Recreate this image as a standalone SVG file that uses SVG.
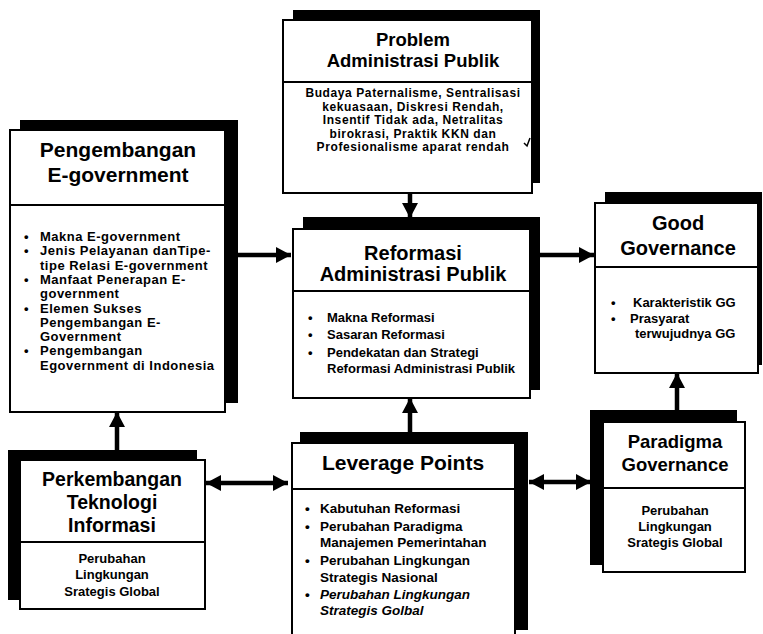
<svg xmlns="http://www.w3.org/2000/svg" width="763" height="634" viewBox="0 0 763 634">
<style>
.box{fill:#fff;stroke:#000;stroke-width:2}
.sh{fill:#000}
.div{stroke:#000;stroke-width:2}
.t{font-family:"Liberation Sans",Arial,sans-serif;font-weight:bold;fill:#000}
.ti{text-anchor:middle}
.c{text-anchor:middle}
.conn{stroke:#000;stroke-width:4.5;fill:none}
.it{font-style:italic}
.pb{font-size:12px;letter-spacing:0.6px}
.lb{font-size:13px;letter-spacing:0.5px}
</style>
<defs>
<marker id="ah" markerUnits="userSpaceOnUse" markerWidth="16" markerHeight="16" refX="15" refY="8" orient="auto-start-reverse">
<path d="M0,0 L15,8 L0,16 Z" fill="#000"/>
</marker>
</defs>
<rect width="763" height="634" fill="#fff"/>

<g id="connectors">
<line class="conn" x1="410" y1="193" x2="410" y2="218" marker-end="url(#ah)"/>
<line class="conn" x1="238" y1="255" x2="291" y2="255" marker-end="url(#ah)"/>
<line class="conn" x1="540" y1="255" x2="594" y2="255" marker-end="url(#ah)"/>
<line class="conn" x1="677" y1="410" x2="677" y2="373" marker-end="url(#ah)"/>
<line class="conn" x1="410" y1="432" x2="410" y2="398" marker-end="url(#ah)"/>
<line class="conn" x1="117" y1="450" x2="117" y2="412" marker-end="url(#ah)"/>
<line class="conn" x1="206" y1="483" x2="288" y2="483" marker-start="url(#ah)" marker-end="url(#ah)"/>
<line class="conn" x1="529" y1="482" x2="591" y2="482" marker-start="url(#ah)" marker-end="url(#ah)"/>
</g>

<g id="problem">
<rect class="sh" x="293" y="10" width="247" height="173"/>
<rect class="box" x="283" y="20" width="249" height="173"/>
<line class="div" x1="283" y1="82" x2="532" y2="82"/>
<text class="t ti" font-size="18.5" x="413" y="46">Problem</text>
<text class="t ti" font-size="18.5" x="413" y="67">Administrasi Publik</text>
<text class="t c pb" x="413" y="97">Budaya Paternalisme, Sentralisasi</text>
<text class="t c pb" x="413" y="111">kekuasaan, Diskresi Rendah,</text>
<text class="t c pb" x="413" y="124">Insentif Tidak ada, Netralitas</text>
<text class="t c pb" x="413" y="138">birokrasi, Praktik KKN dan</text>
<text class="t c pb" x="413" y="151">Profesionalisme aparat rendah</text>
<path d="M524,143 L527,146 L530,138" stroke="#000" stroke-width="1.5" fill="none"/>
</g>

<g id="pengembangan">
<rect class="sh" x="20" y="120" width="218" height="283"/>
<rect class="box" x="10" y="130" width="215" height="282"/>
<line class="div" x1="10" y1="205" x2="225" y2="205"/>
<text class="t ti" font-size="21" x="118" y="157">Pengembangan</text>
<text class="t ti" font-size="21" x="118" y="182">E-government</text>
<text class="t lb" x="24" y="241">•</text>
<text class="t lb" x="40" y="241">Makna E-government</text>
<text class="t lb" x="24" y="255">•</text>
<text class="t lb" x="40" y="255">Jenis Pelayanan danTipe-</text>
<text class="t lb" x="40" y="270">tipe Relasi E-government</text>
<text class="t lb" x="24" y="284">•</text>
<text class="t lb" x="40" y="284">Manfaat Penerapan E-</text>
<text class="t lb" x="40" y="298">government</text>
<text class="t lb" x="24" y="313">•</text>
<text class="t lb" x="40" y="313">Elemen Sukses</text>
<text class="t lb" x="40" y="327">Pengembangan  E-</text>
<text class="t lb" x="40" y="341">Government</text>
<text class="t lb" x="24" y="355">•</text>
<text class="t lb" x="40" y="355">Pengembangan</text>
<text class="t lb" x="40" y="370">Egovernment di Indonesia</text>
</g>

<g id="reformasi">
<rect class="sh" x="303" y="217" width="237" height="173"/>
<rect class="box" x="293" y="229" width="237" height="169"/>
<line class="div" x1="293" y1="291" x2="530" y2="291"/>
<text class="t ti" font-size="20" x="413" y="260">Reformasi</text>
<text class="t ti" font-size="20" x="413" y="281">Administrasi Publik</text>
<g font-size="13">
<text class="t" x="308" y="322">•</text>
<text class="t" x="327" y="322">Makna Reformasi</text>
<text class="t" x="308" y="339">•</text>
<text class="t" x="327" y="339">Sasaran Reformasi</text>
<text class="t" x="308" y="357">•</text>
<text class="t" x="327" y="357">Pendekatan dan  Strategi</text>
<text class="t" x="327" y="373">Reformasi Administrasi Publik</text>
</g>
</g>

<g id="good-governance">
<rect class="sh" x="605" y="192" width="157" height="173"/>
<rect class="box" x="595" y="203" width="163" height="170"/>
<line class="div" x1="595" y1="267" x2="758" y2="267"/>
<text class="t ti" font-size="20" x="678" y="230">Good</text>
<text class="t ti" font-size="20" x="678" y="255">Governance</text>
<g font-size="13">
<text class="t" x="611" y="307">•</text>
<text class="t" x="633" y="307">Karakteristik GG</text>
<text class="t" x="611" y="323">•</text>
<text class="t" x="630" y="323">Prasyarat</text>
<text class="t" x="635" y="338">terwujudnya GG</text>
</g>
</g>

<g id="paradigma">
<rect class="sh" x="590" y="410" width="147" height="155"/>
<rect class="box" x="603" y="422" width="142" height="150"/>
<line class="div" x1="603" y1="488" x2="745" y2="488"/>
<text class="t ti" font-size="18.5" x="675" y="448">Paradigma</text>
<text class="t ti" font-size="18.5" x="675" y="471">Governance</text>
<text class="t c" font-size="13" x="675" y="515">Perubahan</text>
<text class="t c" font-size="13" x="675" y="531">Lingkungan</text>
<text class="t c" font-size="13" x="675" y="547">Srategis Global</text>
</g>

<g id="leverage">
<rect class="sh" x="300" y="432" width="228" height="198"/>
<rect class="box" x="292" y="443" width="223" height="200"/>
<line class="div" x1="292" y1="489" x2="515" y2="489"/>
<text class="t ti" font-size="21" x="403" y="470">Leverage Points</text>
<g font-size="13.5">
<text class="t" x="305" y="513">•</text>
<text class="t" x="320" y="513">Kabutuhan Reformasi</text>
<text class="t" x="305" y="531">•</text>
<text class="t" x="320" y="531">Perubahan Paradigma</text>
<text class="t" x="320" y="547">Manajemen Pemerintahan</text>
<text class="t" x="305" y="565">•</text>
<text class="t" x="320" y="565">Perubahan Lingkungan</text>
<text class="t" x="320" y="582">Strategis Nasional</text>
<text class="t" x="305" y="599">•</text>
<text class="t it" x="320" y="599">Perubahan Lingkungan</text>
<text class="t it" x="320" y="615">Strategis Golbal</text>
</g>
</g>

<g id="perkembangan">
<rect class="sh" x="8" y="450" width="189" height="150"/>
<rect class="box" x="20" y="460" width="185" height="149"/>
<line class="div" x1="20" y1="542" x2="205" y2="542"/>
<text class="t ti" font-size="19.5" x="112" y="486">Perkembangan</text>
<text class="t ti" font-size="19.5" x="112" y="509">Teknologi</text>
<text class="t ti" font-size="19.5" x="112" y="532">Informasi</text>
<text class="t c" font-size="13" x="112" y="563">Perubahan</text>
<text class="t c" font-size="13" x="112" y="579">Lingkungan</text>
<text class="t c" font-size="13" x="112" y="596">Srategis Global</text>
</g>
</svg>
